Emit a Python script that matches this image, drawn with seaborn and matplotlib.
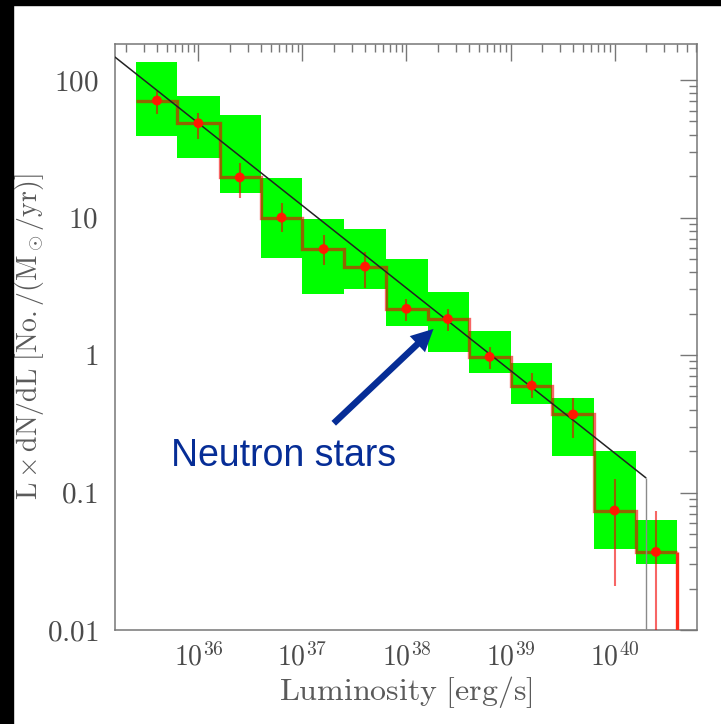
import matplotlib
matplotlib.use('Agg')
import matplotlib.pyplot as plt
import numpy as np
import seaborn as sns
from matplotlib.patches import Rectangle
from matplotlib.ticker import LogLocator, NullFormatter, FixedLocator, FixedFormatter

# bin edges and centres (erg/s)
lum_edges = [2.5e35, 6.3e35, 1.6e36, 4.0e36, 1.0e37, 2.5e37, 6.3e37,
             1.6e38, 4.0e38, 1.0e39, 2.5e39, 6.3e39, 1.6e40, 4.0e40]
lum_mid = [4.0e35, 1.0e36, 2.5e36, 6.3e36, 1.6e37, 4.0e37, 1.0e38,
           2.5e38, 6.3e38, 1.6e39, 4.0e39, 1.0e40, 2.5e40]

# measured L x dN/dL per bin
dn_dl = [71, 48.6, 19.6, 10.0, 5.9, 4.4, 2.17, 1.83, 0.97, 0.60, 0.37, 0.074, 0.037]
err_hi = [84, 58, 24.8, 12.8, 7.5, 5.65, 2.57, 2.17, 1.14, 0.74, 0.485, 0.126, 0.074]
err_lo = [57, 37, 13.8, 7.8, 4.5, 3.08, 1.77, 1.5, 0.79, 0.485, 0.25, 0.021, 0.005]

# green systematic band
band_hi = [135, 76, 55.6, 19.3, 9.7, 8.2, 5.0, 2.88, 1.5, 0.875, 0.49, 0.2, 0.0635]
band_lo = [39, 27, 15.2, 5.1, 2.8, 3.0, 1.63, 1.05, 0.74, 0.44, 0.183, 0.039, 0.030]

# power-law model (end points) with cutoff
fit_lum = [1.58e35, 2.0e40]
fit_val = [147, 0.128]

x_ticks = [1e36, 1e37, 1e38, 1e39, 1e40]
x_tick_labels = [r'$10^{36}$', r'$10^{37}$', r'$10^{38}$', r'$10^{39}$', r'$10^{40}$']
y_ticks = [0.01, 0.1, 1, 10, 100]
y_tick_labels = [r'$0.01$', r'$0.1$', r'$1$', r'$10$', r'$100$']

sns.set_style('white')
plt.rcParams['font.family'] = ['cmr10', 'DejaVu Serif']
plt.rcParams['mathtext.fontset'] = 'cm'
plt.rcParams['axes.formatter.use_mathtext'] = True

fig = plt.figure(figsize=(7.21, 7.24), dpi=100)
ax = fig.add_axes([0.1595, 0.1298, 0.8072, 0.8094])
ax.set_xscale('log')
ax.set_yscale('log')

# green boxes
ax.bar(lum_edges[:-1], np.subtract(band_hi, band_lo), bottom=band_lo,
       width=np.diff(lum_edges), align='edge', color='#00ff00', linewidth=0, zorder=1)

# histogram steps + error bars
red_line = (0.95, 0.0, 0.0, 0.6)
ax.stairs(dn_dl, lum_edges, baseline=None, color=red_line, lw=2.4, zorder=3)
ax.vlines(lum_edges[-1], err_lo[-1], dn_dl[-1], color='#ff2a1a', lw=2.4, zorder=3)
ax.vlines(lum_mid, err_lo, err_hi, colors=[red_line], lw=1.5, zorder=3)

# model line
ax.plot(fit_lum, fit_val, color='#222222', lw=1.1, zorder=4)
ax.vlines(fit_lum[-1], 0.001, fit_val[-1], color='#8a8a8a', lw=1.0, zorder=4)

sns.scatterplot(x=lum_mid, y=dn_dl, ax=ax, color='#ff1a00', s=50,
                edgecolor='none', zorder=5)

ax.set_xlim(1.58e35, 6.2e40)
ax.set_ylim(0.01, 183)

ax.xaxis.set_major_locator(FixedLocator(x_ticks))
ax.xaxis.set_major_formatter(FixedFormatter(x_tick_labels))
ax.yaxis.set_major_locator(FixedLocator(y_ticks))
ax.yaxis.set_major_formatter(FixedFormatter(y_tick_labels))
for axis in (ax.xaxis, ax.yaxis):
    axis.set_minor_locator(LogLocator(base=10, subs=range(2, 10), numticks=20))
    axis.set_minor_formatter(NullFormatter())

ax.tick_params(which='both', direction='in', top=True, right=True,
               color='#777777', width=1.0, labelcolor='#4a4a4a')
ax.tick_params(which='major', length=12)
ax.tick_params(which='minor', length=6)
ax.tick_params(axis='y', pad=12, labelsize=21)
ax.tick_params(axis='x', pad=9, labelsize=20)
for sp in ax.spines.values():
    sp.set_color('#777777')
    sp.set_linewidth(1.1)

ax.set_xlabel(r'$\mathrm{Luminosity\ [erg/s]}$', fontsize=23, color='#5a5a5a')
ax.set_ylabel(r'$\mathrm{L\times dN/dL\ [No./(M_\odot/yr)]}$', fontsize=20, color='#5a5a5a')
ax.xaxis.set_label_coords(0.5, -0.075)
ax.yaxis.set_label_coords(-0.118, 0.5)

# annotation
ax.annotate('', xy=(1.82e38, 1.55), xytext=(2.0e37, 0.319),
            arrowprops=dict(width=4.7, headwidth=16, headlength=16, shrink=0,
                            color='#062d96', linewidth=0), zorder=6)
ax.text(5.4e35, 0.155, 'Neutron stars', family=['Liberation Sans', 'DejaVu Sans'],
        fontsize=27, color='#062d96', ha='left', va='baseline', zorder=6)

# black frame strips of the original slide
fig.add_artist(Rectangle((0, 0), 13 / 721, 1, transform=fig.transFigure,
                         color='black', zorder=10))
fig.add_artist(Rectangle((0, 1 - 5 / 724), 1, 5 / 724, transform=fig.transFigure,
                         color='black', zorder=10))

fig.savefig('out.png', dpi=100)
